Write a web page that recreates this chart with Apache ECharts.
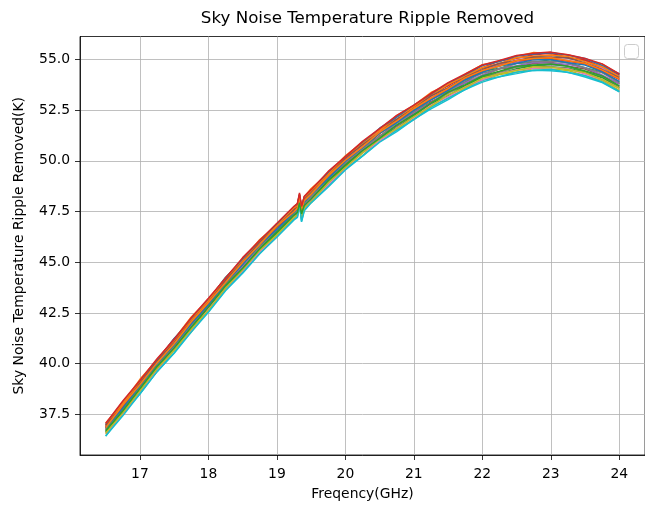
<!DOCTYPE html>
<html><head><meta charset="utf-8">
<script src="https://cdn.jsdelivr.net/npm/echarts@6/dist/echarts.min.js"></script>
<style>html,body{margin:0;padding:0;background:#fff}#c{width:645px;height:506px}</style>
</head><body><div id="c"></div>
<script>
// Frequency grid (GHz)
const freq = [16.5,16.75,17,17.25,17.5,17.75,18,18.25,18.5,18.75,19,19.25,19.3,19.33,19.36,19.4,19.5,19.75,20,20.25,20.5,20.75,21,21.25,21.5,21.75,22,22.25,22.5,22.75,23,23.25,23.5,23.75,24];
// Centre of the band of curves (K)
const base = [36.75,37.8,38.85,39.9,40.9,41.9,42.9,43.9,44.85,45.75,46.6,47.4,47.55,48.05,47.45,47.9,48.25,49.1,49.9,50.6,51.25,51.85,52.4,52.95,53.45,53.9,54.3,54.55,54.75,54.88,54.9,54.8,54.6,54.3,53.85];
// Per-curve deviation from the band centre (hundredths of K)
const dev00 = [15,24,12,27,19,10,26,21,14,29,17,23,20,18,12,25,16,28,13,22,26,15,24,19,31,20,28,23,33,25,30,27,35,24,31];
const dev01 = [33,25,38,28,31,40,26,35,29,37,24,34,36,30,27,33,39,28,35,31,26,38,33,42,30,37,44,35,40,46,38,43,39,47,41];
const dev02 = [6,-4,10,1,-2,9,4,-6,8,0,5,-3,7,12,-5,3,9,-1,6,-4,11,2,-3,8,4,-2,10,1,6,-3,9,3,-1,7,2];
const dev03 = [22,31,19,28,34,21,27,18,33,25,30,20,26,29,23,31,22,35,24,28,19,32,27,36,25,33,29,38,31,35,40,30,37,33,39];
const dev04 = [13,4,16,9,7,18,11,3,14,10,6,17,8,13,5,12,15,7,19,9,12,4,16,11,8,18,13,21,10,16,19,12,22,15,18];
const dev05 = [-3,-12,-1,-9,-4,-14,-6,2,-10,-5,-13,-2,-8,-4,-11,-7,-1,-12,-5,-9,-2,-13,-7,-3,-11,-6,-9,-1,-12,-8,-4,-13,-7,-10,-5];
const dev06 = [10,19,15,8,21,13,17,9,22,12,18,14,11,16,9,15,20,11,17,13,23,10,16,19,12,21,17,14,24,18,22,15,20,25,17];
const dev07 = [-9,-17,-11,-6,-19,-13,-8,-16,-12,-20,-10,-15,-12,-9,-17,-14,-7,-18,-11,-15,-9,-19,-13,-16,-10,-20,-14,-18,-12,-21,-16,-13,-22,-17,-19];
const dev08 = [-23,-31,-25,-29,-22,-33,-27,-24,-32,-26,-30,-21,-28,-25,-33,-27,-31,-24,-29,-34,-26,-30,-33,-28,-36,-31,-34,-29,-38,-33,-37,-35,-40,-34,-38];
const dev09 = [-32,-26,-34,-29,-36,-27,-31,-25,-33,-29,-35,-28,-30,-8,-42,-31,-27,-34,-30,-36,-29,-33,-37,-31,-35,-39,-33,-40,-37,-42,-38,-44,-39,-41,-43];
const dev10 = [25,31,27,22,33,29,24,35,28,31,26,30,33,28,25,32,27,34,30,25,36,31,34,29,37,33,40,36,42,39,44,41,45,40,43];
const dev11 = [19,27,22,17,26,24,20,29,21,25,18,28,23,26,19,24,27,21,30,23,26,20,29,25,32,27,30,24,33,28,31,35,29,34,30];
const dev12 = [-12,-20,-15,-18,-11,-21,-14,-17,-22,-13,-19,-16,-14,-19,-12,-18,-21,-13,-17,-20,-15,-22,-18,-14,-23,-19,-17,-25,-21,-18,-26,-22,-24,-20,-25];
const dev13 = [11,5,14,7,2,12,9,15,4,10,7,13,6,11,8,3,12,9,14,6,10,15,8,13,11,17,9,14,18,12,16,11,19,14,17];
const dev14 = [1,-7,3,-4,-9,0,-5,4,-8,-2,-6,2,-3,-7,0,-5,-1,-8,3,-4,-7,1,-3,-9,-1,-5,-8,0,-6,-3,-9,-4,-1,-7,-5];
const dev15 = [20,13,18,23,15,19,12,21,17,24,14,19,16,22,13,20,18,15,23,19,14,21,18,25,16,22,20,26,19,24,21,27,23,20,25];
const dev16 = [-18,-26,-20,-24,-17,-27,-21,-19,-25,-22,-28,-18,-23,-20,-26,-22,-18,-27,-24,-21,-29,-23,-26,-20,-28,-25,-30,-24,-27,-31,-28,-26,-32,-29,-27];
const dev17 = [4,-3,2,6,-2,5,-4,3,7,-1,4,0,2,-3,5,1,-2,6,0,3,-4,4,1,7,-1,5,2,-2,6,3,0,5,-3,4,2];
const dev18 = [-17,-23,-19,-15,-24,-20,-26,-18,-22,-16,-25,-19,-21,-17,-24,-20,-27,-18,-23,-21,-17,-26,-22,-25,-19,-28,-23,-26,-30,-24,-28,-31,-25,-29,-27];
const dev19 = [-31,-37,-33,-29,-38,-34,-36,-30,-39,-33,-35,-31,-34,-12,-46,-36,-32,-39,-35,-37,-33,-41,-36,-39,-43,-38,-42,-40,-45,-41,-46,-43,-47,-44,-45];
const dev20 = [8,1,6,10,3,7,-1,9,4,11,2,7,5,9,1,6,10,3,8,5,12,4,9,6,2,10,7,13,5,11,8,4,12,9,7];
const dev21 = [9,16,11,14,8,17,12,10,15,13,19,9,12,15,10,14,11,17,13,9,16,12,18,14,11,19,15,13,20,16,18,14,21,17,19];
const dev22 = [-6,-12,-8,-4,-13,-9,-11,-5,-14,-8,-10,-7,-9,-12,-6,-10,-13,-7,-11,-9,-14,-8,-12,-10,-6,-15,-11,-13,-9,-16,-12,-14,-17,-11,-15];
const dev23 = [30,36,32,35,29,37,33,31,38,34,32,36,34,37,30,35,33,38,31,36,34,39,35,37,41,38,43,40,44,42,46,43,45,48,44];
const devs = [dev00,dev01,dev02,dev03,dev04,dev05,dev06,dev07,dev08,dev09,dev10,dev11,dev12,dev13,dev14,dev15,dev16,dev17,dev18,dev19,dev20,dev21,dev22,dev23];

const xTicks = [17,18,19,20,21,22,23,24];
const yTicks = [37.5,40,42.5,45,47.5,50,52.5,55];
const palette = ['#1f77b4','#ff7f0e','#2ca02c','#d62728','#9467bd','#8c564b','#e377c2','#7f7f7f','#bcbd22','#17becf'];

const FONT = 'DejaVu Sans';
const series = devs.map((d, k) => ({
  type: 'line',
  showSymbol: false,
  symbol: 'none',
  clip: true,
  lineStyle: { width: 1.5, color: palette[k % 10] },
  itemStyle: { color: palette[k % 10] },
  emphasis: { disabled: true },
  data: freq.map((f, i) => [f, +(base[i] + d[i] / 100).toFixed(3)])
}));

const chart = echarts.init(document.getElementById('c'), null, { renderer: 'canvas' });
chart.setOption({
  animation: false,
  backgroundColor: '#fff',
  title: {
    text: 'Sky Noise Temperature Ripple Removed',
    left: 362.5, top: 5, textAlign: 'center',
    textStyle: { fontFamily: FONT, fontSize: 16.7, fontWeight: 'normal', color: '#000' }
  },
  grid: { left: 80, right: 0, top: 36.5, bottom: 50, show: true, borderColor: '#000', borderWidth: 0.8, containLabel: false },
  xAxis: {
    type: 'value', min: 16.125, max: 24.375,
    name: 'Freqency(GHz)', nameLocation: 'middle', nameGap: 32,
    nameTextStyle: { fontFamily: FONT, fontSize: 13.9, color: '#000' },
    axisLine: { show: true, lineStyle: { color: '#000', width: 0.8 } },
    axisTick: { show: true, inside: false, length: 5, lineStyle: { color: '#000', width: 0.8 }, customValues: xTicks },
    axisLabel: { margin: 12, fontFamily: FONT, fontSize: 13.9, color: '#000', customValues: xTicks, formatter: v => String(v) },
    splitLine: { show: true, lineStyle: { color: '#b0b0b0', width: 0.8 } }
  },
  yAxis: {
    type: 'value', min: 35.5, max: 56.13,
    name: 'Sky Noise Temperature Ripple Removed(K)', nameLocation: 'middle', nameGap: 54, nameRotate: 90,
    nameTextStyle: { fontFamily: FONT, fontSize: 13.9, color: '#000' },
    axisLine: { show: true, lineStyle: { color: '#000', width: 0.8 } },
    axisTick: { show: true, inside: false, length: 5, lineStyle: { color: '#000', width: 0.8 }, customValues: yTicks },
    axisLabel: { margin: 10, fontFamily: FONT, fontSize: 13.9, color: '#000', customValues: yTicks, formatter: v => Number(v).toFixed(1) },
    splitLine: { show: true, lineStyle: { color: '#b0b0b0', width: 0.8 } }
  },
  graphic: [{
    type: 'rect', z: 100,
    shape: { x: 624.5, y: 44.5, width: 14, height: 14, r: 3 },
    style: { fill: 'rgba(255,255,255,0.8)', stroke: '#cccccc', lineWidth: 1 }
  }],
  series: series
});
</script>
</body></html>
